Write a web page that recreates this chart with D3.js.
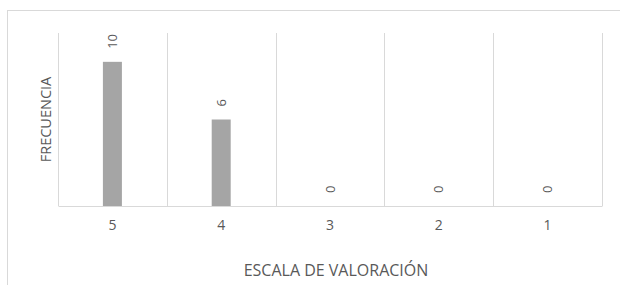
<!DOCTYPE html>
<html>
<head>
<meta charset="utf-8">
<script src="https://cdn.jsdelivr.net/npm/d3@7"></script>
<style>
body { margin: 0; background: #fff; }
text { font-family: "Open Sans", "Liberation Sans", sans-serif; fill: #595959; }
</style>
</head>
<body>
<div id="chart"></div>
<script>
// chart data
var categories = ["5", "4", "3", "2", "1"];
var frecuencia = [10, 6, 0, 0, 0];
var yTicks = [0, 12];

var svgWidth = 620;
var svgHeight = 285;

var margin = { top: 33, right: 18, bottom: 79, left: 58 };
var width = svgWidth - margin.left - margin.right;
var height = svgHeight - margin.top - margin.bottom;

var svg = d3.select("#chart")
  .append("svg")
  .attr("width", svgWidth)
  .attr("height", svgHeight);

// outer frame
svg.append("rect")
  .attr("x", 7.5)
  .attr("y", 10.5)
  .attr("width", 640)
  .attr("height", 300)
  .attr("fill", "none")
  .attr("stroke", "#d9d9d9")
  .attr("stroke-width", 1);

var chartGroup = svg.append("g")
  .attr("transform", `translate(${margin.left}, ${margin.top})`);

var xScale = d3.scaleBand()
  .domain(categories)
  .range([0, width]);

var yScale = d3.scaleLinear()
  .domain(d3.extent(yTicks))
  .range([height, 0]);

// vertical gridlines at category boundaries
var bounds = categories.map(c => xScale(c)).concat([width]);
chartGroup.selectAll(".grid")
  .data(bounds)
  .enter()
  .append("line")
  .attr("x1", d => Math.round(d) + 0.5)
  .attr("x2", d => Math.round(d) + 0.5)
  .attr("y1", 0)
  .attr("y2", height)
  .attr("stroke", "#d9d9d9");

// bars
var barWidth = 19;
chartGroup.selectAll(".bar")
  .data(frecuencia)
  .enter()
  .append("rect")
  .attr("x", (d, i) => xScale(categories[i]) + xScale.bandwidth() / 2 - barWidth / 2)
  .attr("y", d => yScale(d))
  .attr("width", barWidth)
  .attr("height", d => height - yScale(d))
  .attr("fill", "#a5a5a5");

// value labels, rotated
chartGroup.selectAll(".label")
  .data(frecuencia)
  .enter()
  .append("text")
  .attr("transform", (d, i) => {
    var x = xScale(categories[i]) + xScale.bandwidth() / 2 + 4.5;
    var y = yScale(d) - 13;
    return `translate(${x}, ${y}) rotate(-90)`;
  })
  .style("font-size", "13px")
  .text(d => d);

// x axis
var bottomAxis = d3.axisBottom(xScale).tickSize(0).tickPadding(14);
var xAxis = chartGroup.append("g")
  .attr("transform", `translate(0, ${height})`)
  .call(bottomAxis);
xAxis.select(".domain").attr("stroke", "#d9d9d9");
xAxis.selectAll("text")
  .style("font-size", "14px")
  .attr("fill", "#595959");

// axis titles
svg.append("text")
  .attr("x", margin.left + width / 2 + 6)
  .attr("y", 276)
  .attr("text-anchor", "middle")
  .style("font-size", "16px")
  .text("ESCALA DE VALORACIÓN");

svg.append("text")
  .attr("transform", `translate(51, ${margin.top + height / 2}) rotate(-90)`)
  .attr("text-anchor", "middle")
  .style("font-size", "14.5px")
  .text("FRECUENCIA");
</script>
</body>
</html>
